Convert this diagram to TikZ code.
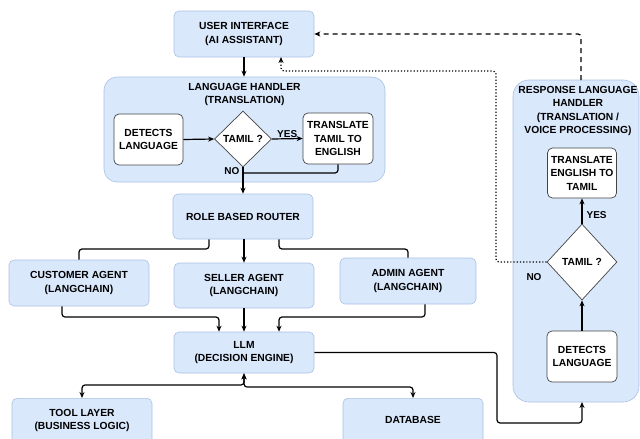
\documentclass[tikz,border=0pt]{standalone}
\usepackage{fontspec}
\setmainfont{Liberation Sans}
\usetikzlibrary{shapes.geometric,arrows.meta,calc}
\definecolor{bfill}{HTML}{DAE8FC}
\definecolor{bline}{HTML}{A9C1E3}
\definecolor{wline}{HTML}{444444}
\begin{document}
\begin{tikzpicture}[x=1pt,y=-1pt,
  every node/.style={font=\fontsize{10.3}{13.5}\selectfont\bfseries, align=center, inner sep=0pt},
  bluebox/.style={rectangle, rounded corners=5pt, fill=bfill, draw=bline, line width=0.6pt},
  container/.style={rectangle, rounded corners=13pt, fill=bfill, draw=bline, line width=0.6pt},
  whitebox/.style={rectangle, rounded corners=5pt, fill=white, draw=wline, line width=0.7pt},
  decide/.style={diamond, fill=white, draw=wline, line width=0.7pt},
  conn/.style={line width=1.2pt, rounded corners=3pt},
  arr/.style={conn, -{Stealth[length=6pt,width=5pt]}},
  lbl/.style={font=\fontsize{10}{12}\selectfont\bfseries}
]
\useasboundingbox (0,0) rectangle (640,439);

% containers
\node[container, minimum width=281pt, minimum height=105pt] (lh) at (244.5,129.5) {};
\node (lht) at (244.5,94.5) {LANGUAGE HANDLER\\(TRANSLATION)};
\node[container, rounded corners=16pt, minimum width=126pt, minimum height=322pt] (rlh) at (576,241) {};
\node (rlht) at (578,111) {RESPONSE LANGUAGE\\HANDLER\\(TRANSLATION /\\VOICE PROCESSING)};

% main boxes
\node[bluebox, minimum width=140pt, minimum height=46pt] (ui) at (244,34) {USER INTERFACE\\(AI ASSISTANT)};
\node[bluebox, minimum width=140pt, minimum height=45pt] (router) at (243,216.5) {ROLE BASED ROUTER};
\node[bluebox, minimum width=140pt, minimum height=46pt] (cust) at (79,283) {CUSTOMER AGENT\\(LANGCHAIN)};
\node[bluebox, minimum width=140pt, minimum height=45pt] (sell) at (244,285.5) {SELLER AGENT\\(LANGCHAIN)};
\node[bluebox, minimum width=136pt, minimum height=46pt] (admin) at (408,281) {ADMIN AGENT\\(LANGCHAIN)};
\node[bluebox, minimum width=140pt, minimum height=41pt] (llm) at (244,352.5) {LLM\\(DECISION ENGINE)};
\node[bluebox, minimum width=140pt, minimum height=46pt, anchor=north] (tool) at (82,398) {};
\node (toolt) at (82,420.5) {TOOL LAYER\\(BUSINESS LOGIC)};
\node[bluebox, minimum width=140pt, minimum height=46pt, anchor=north] (db) at (413,398) {};
\node (dbt) at (413,420) {DATABASE};

% language handler inner
\node[whitebox, minimum width=69pt, minimum height=51pt] (det1) at (148.5,139.5) {DETECTS\\LANGUAGE};
\node[decide, minimum width=57pt, minimum height=56pt] (tam1) at (243,139) {TAMIL ?};
\node[whitebox, minimum width=70pt, minimum height=51pt] (tr1) at (338,138.5) {TRANSLATE\\TAMIL TO\\ENGLISH};

% response handler inner
\node[whitebox, minimum width=69pt, minimum height=50pt] (tr2) at (582,173) {TRANSLATE\\ENGLISH TO\\TAMIL};
\node[decide, minimum width=70pt, minimum height=76pt] (tam2) at (582,262) {TAMIL ?};
\node[whitebox, minimum width=70pt, minimum height=51pt] (det2) at (582,356.5) {DETECTS\\LANGUAGE};

% helper coordinates
\coordinate (m1) at (243,173);
\coordinate (rl) at (209,249);
\coordinate (rr) at (279,249);
\coordinate (cl) at (62,317);
\coordinate (ar) at (425,317);
\coordinate (lt) at (244,385);
\coordinate (ld) at (244,387);
\coordinate (k1) at (497,423);
\coordinate (rin) at (582,402);
\coordinate (rtop) at (581,80);
\coordinate (d1) at (496,71);
\coordinate (uin) at (281,57);

% connectors in language handler
\draw[arr] (ui.south) -- (lh.north -| ui.south);
\draw[arr] (det1.east) -- (tam1.west);
\draw[arr] (tam1.east) -- node[lbl, above=1pt] {YES} (tr1.west);
\draw[conn] (tr1.south) |- (m1);
\draw[arr] (tam1.south) -- node[lbl, pos=0.15, left=3pt] {NO} (router.north);

% router to agents
\draw[conn] (router.south -| rl) -- (rl) -| (cust.north);
\draw[arr] (router.south -| sell.north) -- (sell.north);
\draw[conn] (router.south -| rr) -- (rr) -| (admin.north);

% agents to LLM
\draw[arr] (cust.south -| cl) -- (cl) -| ($(llm.north)+(-25,0)$);
\draw[arr] (sell.south) -- (llm.north);
\draw[arr] (admin.south -| ar) -- (ar) -| ($(llm.north)+(35,0)$);

% LLM to tool and database
\draw[conn, {Stealth[length=6pt,width=5pt]}-{Stealth[length=6pt,width=5pt]}] (llm.south) -- (lt) -| (tool.north);
\draw[conn, {Stealth[length=6pt,width=5pt]}-{Stealth[length=6pt,width=5pt]}] (llm.south) -- (ld) -| (db.north);

% LLM to response handler
\draw[arr] (llm.east) -| (k1) -| (rin);

% response handler inner
\draw[arr] (det2.north) -- (tam2.south);
\draw[arr] (tam2.north) -- node[lbl, right=4pt, pos=0.35] {YES} (tr2.south);
\node[lbl] (nolbl) at (534,277) {NO};

% feedback
\draw[conn, line width=1.2pt, dotted, -{Stealth[length=6pt,width=5pt]}] (tam2.west) -| (d1) -| (uin);
\draw[conn, dashed, dash pattern=on 5pt off 4pt, -{Stealth[length=6pt,width=5pt]}] (rtop) |- (ui.east);
\end{tikzpicture}
\end{document}
